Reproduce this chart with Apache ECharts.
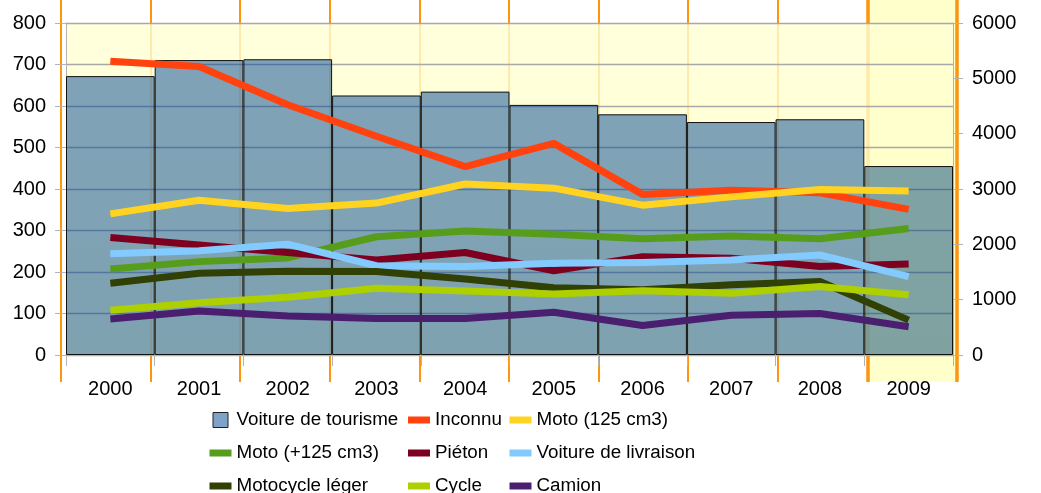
<!DOCTYPE html>
<html>
<head>
<meta charset="utf-8">
<script src="https://cdn.jsdelivr.net/npm/echarts@6/dist/echarts.min.js"></script>
<style>
  html, body { margin: 0; padding: 0; background: #ffffff; }
  #chart { width: 1041px; height: 493px; }
</style>
</head>
<body>
<div id="chart"></div>
<script>
// Road casualties by vehicle type, 2000-2009
const years = ['2000', '2001', '2002', '2003', '2004', '2005', '2006', '2007', '2008', '2009'];
const highlightYear = '2009';

// Bars, right axis
const voitureTourisme = [5040, 5330, 5345, 4690, 4760, 4520, 4350, 4210, 4260, 3415];

// Lines, left axis
const inconnu          = [708, 695, 603, 527, 454, 510, 387, 397, 391, 351];
const moto125          = [340, 373, 353, 366, 412, 402, 361, 381, 399, 395];
const motoPlus125      = [207, 225, 234, 285, 299, 291, 280, 287, 280, 305];
const pieton           = [283, 265, 247, 229, 247, 203, 237, 233, 213, 219];
const voitureLivraison = [244, 251, 267, 215, 213, 221, 223, 229, 241, 189];
const motocycleLeger   = [173, 197, 202, 201, 183, 162, 157, 169, 177, 84];
const cycle            = [108, 126, 139, 161, 154, 147, 155, 149, 165, 145];
const camion           = [87, 106, 94, 88, 88, 103, 71, 96, 100, 68];

// Axis scales
const leftAxis  = { min: 0, max: 800,  interval: 100 };
const rightAxis = { min: 0, max: 6000, interval: 1000 };

const FONT = 'Liberation Sans';
const ORANGE = '#ff950e';
const GRID_GRAY = '#b3b3b3';

const lineSeries = [
  { name: 'Inconnu',              data: inconnu,          color: '#ff420e' },
  { name: 'Moto (125 cm3)',       data: moto125,          color: '#ffd320' },
  { name: 'Moto (+125 cm3)',      data: motoPlus125,      color: '#579d1c' },
  { name: 'Piéton',               data: pieton,           color: '#7e0021' },
  { name: 'Voiture de livraison', data: voitureLivraison, color: '#83caff' },
  { name: 'Motocycle léger',      data: motocycleLeger,   color: '#314004' },
  { name: 'Cycle',                data: cycle,            color: '#aecf00' },
  { name: 'Camion',               data: camion,           color: '#4b1f6f' }
];

const barColor = 'rgba(0,69,150,0.5)';
const barColorHighlight = 'rgba(0,70,128,0.5)';
const hiIndex = years.indexOf(highlightYear);

const squareIcon = 'path://M0,0H15V15H0Z';
const lineIcon = 'path://M0,0H22V7H0Z';

function legendItem(name) {
  if (name === 'Voiture de tourisme') {
    return { name, icon: squareIcon, itemStyle: { color: barColor, borderColor: '#222', borderWidth: 1 } };
  }
  return { name, icon: lineIcon, itemStyle: { borderWidth: 0 } };
}

const legendColumns = [
  { left: 204.5, names: ['Voiture de tourisme', 'Moto (+125 cm3)', 'Motocycle léger'] },
  { left: 403,   names: ['Inconnu', 'Piéton', 'Cycle'] },
  { left: 504.5, names: ['Moto (125 cm3)', 'Voiture de livraison', 'Camion'] }
];

const plainNumber = v => String(v);

const chart = echarts.init(document.getElementById('chart'), null, { renderer: 'canvas' });

const option = {
  animation: false,
  backgroundColor: '#ffffff',
  textStyle: { fontFamily: FONT },
  legend: legendColumns.map(col => ({
    orient: 'vertical',
    left: col.left,
    top: 405,
    height: 120,
    itemWidth: 22,
    itemHeight: 15,
    itemGap: 13,
    selectedMode: false,
    textStyle: { fontFamily: FONT, fontSize: 18.8, color: '#000', lineHeight: 20 },
    data: col.names.map(legendItem)
  })),
  grid: [
    {
      // main plot
      left: 66, right: 88, top: 23, bottom: 138,
      show: true,
      z: 1,
      borderWidth: 0,
      backgroundColor: {
        type: 'linear', x: 0, y: 0, x2: 0, y2: 1,
        colorStops: [
          { offset: 0, color: 'rgba(255,255,212,0.8)' },
          { offset: 1, color: 'rgba(255,255,192,0.8)' }
        ]
      }
    },
    {
      // year columns behind the plot
      left: 61, top: 0, width: 896, height: 382,
      show: false
    }
  ],
  xAxis: [
    {
      type: 'category',
      gridIndex: 0,
      data: years,
      z: 1,
      boundaryGap: true,
      axisLine: { show: true, lineStyle: { color: GRID_GRAY, width: 1 } },
      axisTick: { show: true, length: 11, lineStyle: { color: GRID_GRAY } },
      axisLabel: { color: '#000', fontSize: 20, fontFamily: FONT, margin: 24 },
      splitLine: { show: false }
    },
    {
      type: 'value',
      gridIndex: 1,
      min: 0,
      max: years.length,
      interval: 1,
      z: 0,
      axisLine: { show: false },
      axisTick: { show: false },
      axisLabel: { show: false },
      splitLine: { show: true, lineStyle: { color: ORANGE, width: 2 } }
    }
  ],
  yAxis: [
    {
      type: 'value',
      gridIndex: 0,
      position: 'left',
      min: leftAxis.min, max: leftAxis.max, interval: leftAxis.interval,
      z: 1,
      axisLine: { show: true, lineStyle: { color: GRID_GRAY } },
      axisTick: { show: true, length: 11, lineStyle: { color: GRID_GRAY } },
      axisLabel: { color: '#000', fontSize: 20, fontFamily: FONT, margin: 20, formatter: plainNumber },
      splitLine: { show: true, lineStyle: { color: '#a8a8a8', width: 1.3 } }
    },
    {
      type: 'value',
      gridIndex: 0,
      position: 'right',
      min: rightAxis.min, max: rightAxis.max, interval: rightAxis.interval,
      z: 1,
      axisLine: { show: true, lineStyle: { color: GRID_GRAY } },
      axisTick: { show: true, length: 10, lineStyle: { color: GRID_GRAY } },
      axisLabel: { color: '#000', fontSize: 20, fontFamily: FONT, margin: 19, formatter: plainNumber },
      splitLine: { show: false }
    },
    {
      type: 'value',
      gridIndex: 1,
      min: 0, max: 1,
      show: false,
      splitLine: { show: false }
    }
  ],
  series: [
    {
      // highlighted year column with its thick borders
      type: 'line',
      xAxisIndex: 1,
      yAxisIndex: 2,
      data: [],
      z: 0,
      silent: true,
      markArea: {
        z: 0,
        silent: true,
        itemStyle: { color: '#ffffcc' },
        data: [[{ xAxis: hiIndex }, { xAxis: hiIndex + 1 }]]
      },
      markLine: {
        z: 0,
        silent: true,
        symbol: 'none',
        label: { show: false },
        lineStyle: { color: ORANGE, width: 3.5, type: 'solid' },
        data: [{ xAxis: hiIndex }, { xAxis: hiIndex + 1 }]
      }
    },
    {
      name: 'Voiture de tourisme',
      type: 'bar',
      xAxisIndex: 0,
      yAxisIndex: 1,
      data: voitureTourisme.map((v, i) =>
        i === hiIndex ? { value: v, itemStyle: { color: barColorHighlight } } : v),
      barWidth: '100%',
      barCategoryGap: 0,
      z: 2,
      itemStyle: { color: barColor, borderColor: '#111', borderWidth: 1 }
    },
    ...lineSeries.map(s => ({
      name: s.name,
      type: 'line',
      xAxisIndex: 0,
      yAxisIndex: 0,
      data: s.data,
      z: 3,
      symbol: 'none',
      showSymbol: false,
      color: s.color,
      itemStyle: { color: s.color },
      lineStyle: { color: s.color, width: 7, cap: 'butt', join: 'round' }
    }))
  ]
};

chart.setOption(option);
</script>
</body>
</html>
